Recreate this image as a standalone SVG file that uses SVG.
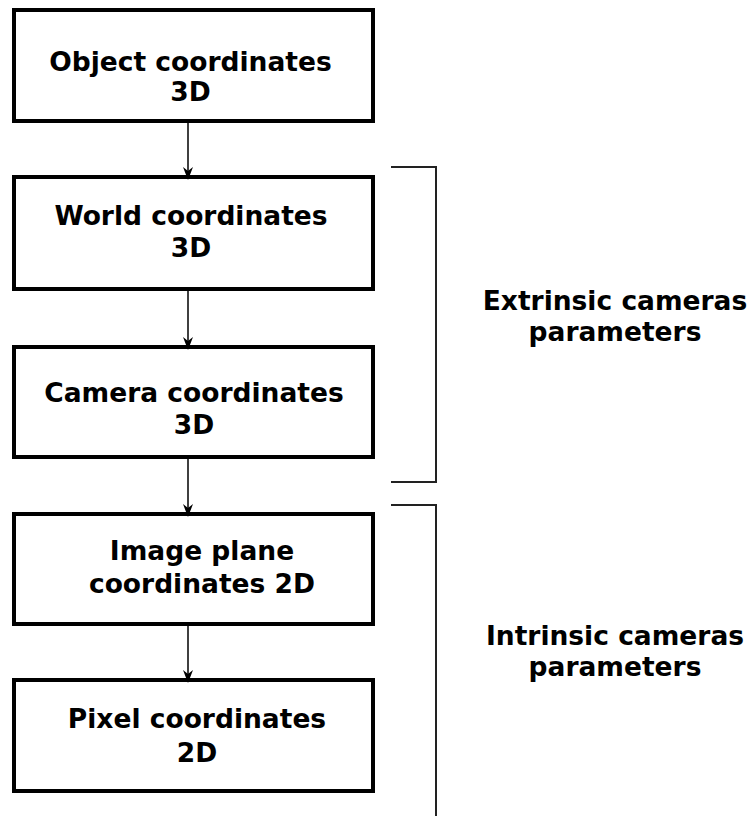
<svg xmlns="http://www.w3.org/2000/svg" width="753" height="816" viewBox="0 0 753 816">
<style>
.box{fill:#fff;stroke:#000;stroke-width:4}
.t{font-family:"DejaVu Sans",sans-serif;font-weight:bold;font-size:26.5px;text-anchor:middle;fill:#000}
.c{stroke:#000;stroke-width:1.5;fill:none}
.br{stroke:#222;stroke-width:2;fill:none}
</style>
<defs>
<marker id="ah" viewBox="0 0 13 10" refX="12" refY="5" markerWidth="13" markerHeight="10" markerUnits="userSpaceOnUse" orient="auto">
<path d="M0,0 L13,5 L0,10 L4,5 z" fill="#000"/>
</marker>
</defs>
<g id="n1"><rect class="box" x="14" y="10" width="359" height="111"/><text class="t" x="190.5" y="71">Object coordinates</text><text class="t" x="190.5" y="101">3D</text></g>
<g id="n2"><rect class="box" x="14" y="177" width="359" height="112"/><text class="t" x="191" y="225">World coordinates</text><text class="t" x="191" y="257">3D</text></g>
<g id="n3"><rect class="box" x="14" y="347" width="359" height="110"/><text class="t" x="194" y="402">Camera coordinates</text><text class="t" x="194" y="434">3D</text></g>
<g id="n4"><rect class="box" x="14" y="514" width="359" height="110"/><text class="t" x="202" y="560">Image plane</text><text class="t" x="202" y="593">coordinates 2D</text></g>
<g id="n5"><rect class="box" x="14" y="680" width="359" height="111"/><text class="t" x="197" y="728">Pixel coordinates</text><text class="t" x="197" y="762">2D</text></g>
<g id="l1"><text class="t" x="615" y="310">Extrinsic cameras</text><text class="t" x="615" y="341">parameters</text></g>
<g id="l2"><text class="t" x="615" y="645">Intrinsic cameras</text><text class="t" x="615" y="676">parameters</text></g>
<g id="connectors">
<line class="c" x1="188" y1="123" x2="188" y2="179" marker-end="url(#ah)"/>
<line class="c" x1="188" y1="291" x2="188" y2="349" marker-end="url(#ah)"/>
<line class="c" x1="188" y1="459" x2="188" y2="516" marker-end="url(#ah)"/>
<line class="c" x1="188" y1="626" x2="188" y2="682" marker-end="url(#ah)"/>
<path class="br" d="M391,167 H436 V482 H391"/>
<path class="br" d="M391,505 H436 V816"/>
</g>
</svg>
